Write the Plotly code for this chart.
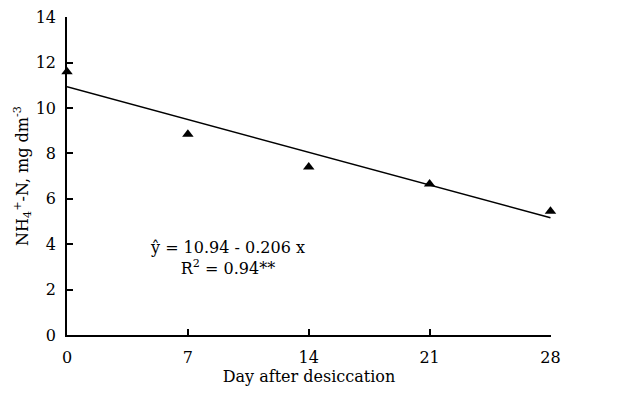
import plotly.graph_objects as go

days = [0, 7, 14, 21, 28]
nh4 = [11.6, 8.85, 7.4, 6.65, 5.45]
fit_x = [0, 28]
fit_y = [10.94, 5.17]
x_ticks = [0, 7, 14, 21, 28]
y_ticks = [0, 2, 4, 6, 8, 10, 12, 14]

FONT = "DejaVu Serif"

fig = go.Figure()
fig.add_trace(go.Scatter(x=fit_x, y=fit_y, mode="lines",
                         line=dict(color="black", width=1.5), showlegend=False))
fig.add_trace(go.Scatter(x=days, y=nh4, mode="markers",
                         marker=dict(symbol="triangle-up", size=10, color="black"),
                         showlegend=False, cliponaxis=False))

fig.add_annotation(x=9.3, y=3.4, xref="x", yref="y",
                   text="ŷ = 10.94 - 0.206 x<br>R<sup>2</sup> = 0.94**",
                   showarrow=False, align="center",
                   font=dict(family=FONT, size=16, color="black"))

fig.update_xaxes(range=[0, 28.03], tickvals=x_ticks, ticks="inside", ticklen=6, tickwidth=1.5,
                 tickcolor="black", showline=True, linecolor="black", linewidth=1.5,
                 showgrid=False, zeroline=False, automargin=False,
                 ticklabelstandoff=7, ticklabeloverflow="allow",
                 title=dict(text="Day after desiccation", standoff=4,
                            font=dict(family=FONT, size=16, color="black")),
                 tickfont=dict(family=FONT, size=16, color="black"))
fig.update_yaxes(range=[0, 14.015], tickvals=y_ticks, ticks="inside", ticklen=6, tickwidth=1.5,
                 tickcolor="black", showline=True, linecolor="black", linewidth=1.5,
                 showgrid=False, zeroline=False, automargin=False,
                 ticklabelstandoff=6, ticklabeloverflow="allow",
                 title=dict(text="NH<sub>4</sub><sup>+</sup>-N, mg dm<sup>-3</sup>", standoff=3,
                            font=dict(family=FONT, size=16, color="black")),
                 tickfont=dict(family=FONT, size=16, color="black"))

fig.update_layout(width=629, height=397, plot_bgcolor="white", paper_bgcolor="white",
                  margin=dict(l=59, r=86, t=9, b=70))
fig.write_html("out.html")
